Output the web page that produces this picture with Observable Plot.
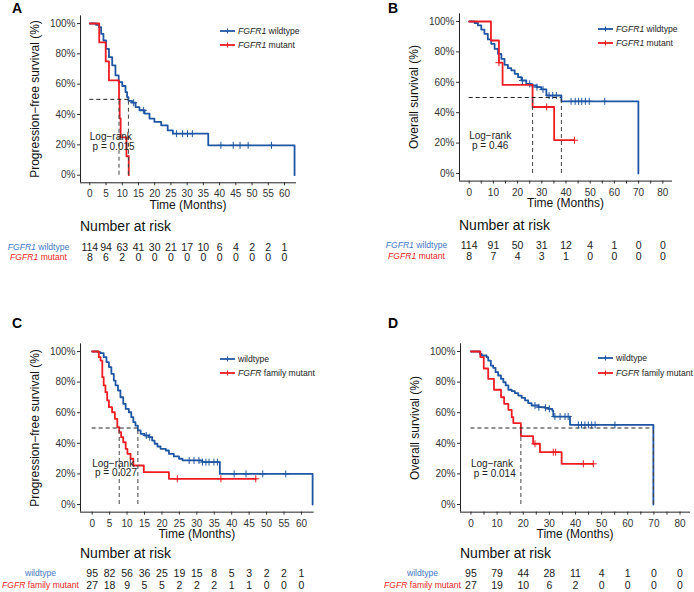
<!DOCTYPE html>
<html><head><meta charset="utf-8">
<script src="https://cdn.jsdelivr.net/npm/d3@7"></script>
<script src="https://cdn.jsdelivr.net/npm/@observablehq/plot@0.6"></script>
<style>
body{margin:0;background:#fff;}
#fig{position:relative;width:694px;height:592px;font-family:"Liberation Sans",Arial,Helvetica,sans-serif;color:#222;overflow:hidden;background:#fff}
.abs{position:absolute;white-space:nowrap;line-height:1}
.abs svg{display:block}
</style></head><body><div id="fig"></div>
<script>
// ---------------- DATA ----------------
const yTicks = [0, 0.2, 0.4, 0.6, 0.8, 1];
const timeTicksPFS = [0,5,10,15,20,25,30,35,40,45,50,55,60];
const timeTicksOS = [0,5,10,15,20,25,30,35,40,45,50,55,60,65,70,75,80];
const timeLabelsOS = [0,10,20,30,40,50,60,70,80];

// Panel A: PFS, FGFR1
const aWtTime = [0, 1.9, 2.8, 3.5, 4.2, 5.0, 5.9, 6.9, 7.9, 8.9, 10.0, 11.0, 11.5, 11.9, 13.0, 14.1, 15.3, 16.9, 18.4, 19.9, 22.0, 24.0, 25.6, 36.5, 63.1];
const aWtSurv = [1, 0.991, 0.976, 0.932, 0.888, 0.833, 0.778, 0.724, 0.658, 0.614, 0.588, 0.548, 0.515, 0.49, 0.478, 0.449, 0.428, 0.406, 0.373, 0.351, 0.329, 0.296, 0.274, 0.197, 0];
const aWtCensor = [13.5, 16.5, 26.7, 28.6, 30.1, 31.6, 40.4, 44.2, 46.3, 48.8, 56.0];
const aMutTime = [0, 2.9, 4.9, 5.9, 9.0, 9.2, 9.5, 11.3, 12.0];
const aMutSurv = [1, 0.875, 0.75, 0.625, 0.5, 0.375, 0.25, 0.125, 0];
const aMutCensor = [];
const aMedians = [9.0, 11.9];
const aPval = "0.015";
const aRiskTimes = [0,5,10,15,20,25,30,35,40,45,50,55,60];
const aRiskWt = [114,94,63,41,30,21,17,10,6,4,2,2,1];
const aRiskMut = [8,6,2,0,0,0,0,0,0,0,0,0,0];

// Panel B: OS, FGFR1
const bWtTime = [0, 2.2, 3.6, 5.0, 6.3, 7.7, 9.1, 10.5, 11.9, 13.3, 14.6, 16.0, 17.4, 18.8, 20.2, 21.6, 23.6, 25.7, 27.8, 29.8, 31.9, 38.1, 69.9];
const bWtSurv = [1, 0.99, 0.974, 0.947, 0.919, 0.882, 0.853, 0.82, 0.787, 0.754, 0.715, 0.693, 0.678, 0.656, 0.634, 0.612, 0.59, 0.579, 0.568, 0.553, 0.513, 0.475, 0];
const bWtCensor = [22, 25, 28, 30.5, 33, 34.5, 36, 42.1, 43.8, 45.2, 46.5, 48.0, 49.6, 56.0];
const bMutTime = [0, 9.0, 12.3, 13.8, 26.2, 35.1, 43.5];
const bMutSurv = [1, 0.875, 0.729, 0.583, 0.4375, 0.219, 0.219];
const bMutCensor = [12.3, 32, 43.5];
const bMedians = [26.2, 38.1];
const bPval = "0.46";
const bRiskTimes = [0,10,20,30,40,50,60,70,80];
const bRiskWt = [114,91,50,31,12,4,1,0,0];
const bRiskMut = [8,7,4,3,1,0,0,0,0];

// Panel C: PFS, FGFR family
const cWtTime = [0, 1.7, 2.4, 3.3, 4.1, 4.8, 5.5, 6.2, 6.7, 7.4, 8.1, 8.9, 9.6, 10.5, 11.2, 11.8, 12.4, 13.1, 13.9, 15.0, 16.3, 17.2, 17.9, 18.7, 19.6, 21.1, 22.0, 23.4, 24.9, 25.9, 31.6, 36.6, 63.2];
const cWtSurv = [1, 0.995, 0.989, 0.963, 0.93, 0.898, 0.854, 0.81, 0.778, 0.745, 0.701, 0.658, 0.625, 0.603, 0.571, 0.538, 0.516, 0.484, 0.462, 0.451, 0.44, 0.418, 0.397, 0.379, 0.364, 0.353, 0.331, 0.314, 0.299, 0.288, 0.277, 0.2, 0];
const cWtCensor = [15.5, 16.5, 27.8, 29.2, 30.6, 31.6, 32.6, 33.5, 34.9, 35.9, 40.7, 44.1, 48.9, 55.5];
const cMutTime = [0, 1.9, 2.4, 2.9, 3.3, 3.8, 4.3, 4.8, 5.7, 6.5, 7.2, 7.75, 8.3, 8.9, 9.6, 10.1, 11.0, 11.8, 14.8, 22.0, 46.9];
const cMutSurv = [1, 0.963, 0.941, 0.832, 0.778, 0.734, 0.68, 0.636, 0.603, 0.56, 0.505, 0.473, 0.44, 0.407, 0.364, 0.331, 0.299, 0.255, 0.211, 0.168, 0.168];
const cMutCensor = [24.4, 36.9, 46.9];
const cMedians = [7.75, 13.1];
const cPval = "0.027";
const cRiskTimes = [0,5,10,15,20,25,30,35,40,45,50,55,60];
const cRiskWt = [95,82,56,36,25,19,15,8,5,3,2,2,1];
const cRiskMut = [27,18,9,5,5,2,2,2,1,1,0,0,0];

// Panel D: OS, FGFR family
const dWtTime = [0, 3.4, 4.1, 6.0, 6.6, 7.6, 8.5, 9.4, 10.4, 11.5, 12.4, 13.3, 14.3, 15.6, 16.8, 18.1, 19.4, 20.7, 21.9, 23.2, 25.8, 28.3, 29.6, 31.1, 31.5, 37.9, 69.8];
const dWtSurv = [1, 0.985, 0.974, 0.963, 0.941, 0.908, 0.893, 0.865, 0.843, 0.821, 0.799, 0.778, 0.75, 0.741, 0.728, 0.712, 0.697, 0.68, 0.662, 0.647, 0.636, 0.632, 0.625, 0.614, 0.575, 0.52, 0];
const dWtCensor = [24.5, 26, 28.5, 30, 32.1, 34.1, 36.0, 37.2, 41.1, 42.3, 43.6, 44.9, 46.2, 47.5, 55.1];
const dMutTime = [0, 3.6, 4.9, 6.6, 8.8, 11.5, 12.7, 14.3, 15.6, 16.2, 19.1, 23.8, 26.4, 34.7, 46.8];
const dMutSurv = [1, 0.963, 0.889, 0.821, 0.75, 0.701, 0.658, 0.619, 0.571, 0.532, 0.447, 0.397, 0.342, 0.266, 0.266];
const dMutCensor = [24.5, 31.5, 32.4, 43, 46.8];
const dMedians = [19.1, 69.8];
const dPval = "0.014";
const dRiskTimes = [0,10,20,30,40,50,60,70,80];
const dRiskWt = [95,79,44,28,11,4,1,0,0];
const dRiskMut = [27,19,10,6,2,0,0,0,0];

const labelsFGFR1 = ["FGFR1 wildtype", "FGFR1 mutant"];
const labelsFamily = ["wildtype", "FGFR family mutant"];

// ---------------- STYLE ----------------
const FONT = '"Liberation Sans", Arial, Helvetica, sans-serif';
const BLUE = "#1f56a3";
const RED = "#ee1d23";
const BLUE_LABEL = "#3f78c4";
const RED_LABEL = "#e8251e";
const fig = document.getElementById("fig");
const NS = "http://www.w3.org/2000/svg";

function survAt(time, surv, t) {
  let s = surv[0];
  for (let i = 0; i < time.length; i++) if (time[i] <= t) s = surv[i];
  return s;
}
function place(el, left, top) {
  const d = document.createElement("div");
  d.className = "abs";
  d.style.left = left + "px"; d.style.top = top + "px";
  d.appendChild(el);
  fig.appendChild(d);
  return d;
}
function htmlText(html, x, y, opts = {}) {
  const d = document.createElement("div");
  d.className = "abs";
  d.innerHTML = html;
  d.style.left = x + "px"; d.style.top = y + "px";
  d.style.fontSize = (opts.size || 12) + "px";
  if (opts.bold) d.style.fontWeight = "bold";
  if (opts.color) d.style.color = opts.color;
  const tx = opts.anchor === "start" ? "0" : opts.anchor === "end" ? "-100%" : "-50%";
  d.style.transform = `translate(${tx},-50%)`;
  if (opts.rotate) { d.style.transformOrigin = "0 0"; d.style.transform = `rotate(${opts.rotate}deg) translate(-50%,-50%)`; }
  fig.appendChild(d);
  return d;
}
function italicize(svg) {
  svg.querySelectorAll("text").forEach(t => {
    if (t.querySelector("tspan")) return;
    const m = t.textContent.match(/^(FGFR1?)( .*)$/);
    if (!m) return;
    t.textContent = "";
    const a = document.createElementNS(NS, "tspan");
    a.setAttribute("font-style", "italic"); a.textContent = m[1];
    const b = document.createElementNS(NS, "tspan");
    b.textContent = m[2];
    t.append(a, b);
  });
}
function legendHTML(label) {
  const m = label.match(/^(FGFR1?)( .*)$/);
  return m ? `<i>${m[1]}</i>${m[2]}` : label;
}

function panel(cfg) {
  const fw = cfg.width - cfg.marginLeft - cfg.marginRight;
  const series = [
    {time: cfg.wtTime, surv: cfg.wtSurv, censor: cfg.wtCensor, color: BLUE},
    {time: cfg.mutTime, surv: cfg.mutSurv, censor: cfg.mutCensor, color: RED}
  ];
  const marks = [
    Plot.ruleX([cfg.xDomain[0]], {stroke: "#222", strokeWidth: 1}),
    Plot.ruleY([-0.05], {stroke: "#222", strokeWidth: 1})
  ];
  for (const s of series) {
    const rows = s.time.map((t, i) => ({t, s: s.surv[i]}));
    marks.push(Plot.line(rows, {x: "t", y: "s", curve: "step-after", stroke: s.color, strokeWidth: 1.8}));
    const cens = s.censor.map(t => ({t, s: survAt(s.time, s.surv, t)}));
    marks.push(Plot.dot(cens, {x: "t", y: "s", symbol: "plus", r: 2.4, stroke: s.color, strokeWidth: 1}));
  }
  marks.push(Plot.ruleY([0.5], {x1: 0, x2: d3.max(cfg.medians), stroke: "#222", strokeWidth: 1, strokeDasharray: "4,3"}));
  marks.push(Plot.ruleX(cfg.medians, {y1: 0, y2: 0.5, stroke: "#444", strokeWidth: 1, strokeDasharray: "4,3"}));
  marks.push(Plot.text([cfg.pval], {x: 0, y: cfg.pvalY, text: d => `Log\u2212rank\n p = ${d}`, textAnchor: "start", lineAnchor: "middle", fontSize: 10, lineHeight: 0.95, fill: "#222"}));

  const km = Plot.plot({
    width: cfg.width, height: cfg.height,
    marginLeft: cfg.marginLeft, marginRight: cfg.marginRight,
    marginTop: cfg.marginTop, marginBottom: cfg.marginBottom,
    style: {fontFamily: FONT, fontSize: "10px", color: "#333", background: "transparent", overflow: "visible"},
    x: {domain: cfg.xDomain, ticks: cfg.xTicks, tickFormat: d => cfg.xLabels.includes(d) ? String(d) : "", label: null, tickSize: 3, tickPadding: 4.5},
    y: {domain: [-0.05, 1.05], ticks: yTicks, tickFormat: d => Math.round(d * 100) + "%", label: null, tickSize: 3, tickPadding: 2},
    marks
  });
  place(km, cfg.left, cfg.top);

  const frameL = cfg.left + cfg.marginLeft;
  const frameT = cfg.top + cfg.marginTop;
  const frameB = cfg.top + cfg.height - cfg.marginBottom;
  htmlText("Time (Months)", frameL + fw / 2, frameB + 22.5, {size: 12, color: "#111"});
  htmlText(cfg.yTitle, frameL - 45.5, (frameT + frameB) / 2, {size: 12, color: "#111", rotate: -90});
  htmlText(cfg.letter, cfg.letterX, cfg.letterY, {size: 14, bold: true, color: "#000"});
  [BLUE, RED].forEach((c, i) => {
    const y = cfg.legendY[i];
    const svg = document.createElementNS(NS, "svg");
    svg.setAttribute("width", 15); svg.setAttribute("height", 8);
    svg.innerHTML = `<line x1="0" x2="15" y1="4" y2="4" stroke="${c}" stroke-width="1.8"/><line x1="7.5" x2="7.5" y1="1.5" y2="6.5" stroke="${c}" stroke-width="1"/>`;
    place(svg, cfg.legendX, y - 4);
    htmlText(legendHTML(cfg.labels[i]), cfg.legendX + 18, y, {size: 8.6, anchor: "start", color: "#222"});
  });
  htmlText("Number at risk", frameL, cfg.riskTitleY, {size: 14, anchor: "start", color: "#111"});
  const riskRows = [];
  cfg.riskTimes.forEach((t, i) => {
    riskRows.push({t, g: "wt", n: cfg.riskWt[i]});
    riskRows.push({t, g: "mut", n: cfg.riskMut[i]});
  });
  const risk = Plot.plot({
    width: cfg.width, height: cfg.riskHeight,
    marginLeft: cfg.marginLeft, marginRight: cfg.marginRight, marginTop: 0, marginBottom: 0,
    style: {fontFamily: FONT, fontSize: "10.5px", color: "#222", background: "transparent", overflow: "visible"},
    x: {domain: cfg.xDomain, axis: null},
    y: {type: "point", domain: ["wt", "mut"], range: cfg.riskRange, padding: 0, axis: null},
    marks: [
      Plot.text(riskRows, {x: "t", y: "g", text: "n", fontSize: 10.5, fill: "#1a1a1a", lineAnchor: "middle"}),
      Plot.text(["wt", "mut"], {y: d => d, text: d => d === "wt" ? cfg.labels[0] : cfg.labels[1], frameAnchor: "left", dx: cfg.riskLabelDx, textAnchor: "middle", lineAnchor: "middle", fontSize: 8.6, fill: d => d === "wt" ? BLUE_LABEL : RED_LABEL})
    ]
  });
  italicize(risk);
  place(risk, cfg.left, cfg.riskTop);
}

panel({
  letter: "A", letterX: 17, letterY: 8,
  left: 0, top: 0, width: 300, height: 215,
  marginLeft: 80, marginRight: 4, marginTop: 15.4, marginBottom: 32.7,
  xDomain: [-2.87, 63.7], xTicks: timeTicksPFS, xLabels: timeTicksPFS,
  yTitle: "Progression\u2212free survival (%)",
  wtTime: aWtTime, wtSurv: aWtSurv, wtCensor: aWtCensor,
  mutTime: aMutTime, mutSurv: aMutSurv, mutCensor: aMutCensor,
  medians: aMedians, pval: aPval, pvalY: 0.218,
  labels: labelsFGFR1, legendX: 220, legendY: [31, 45],
  riskTitleY: 226, riskTop: 235, riskHeight: 30, riskRange: [11.4, 22.2],
  riskTimes: aRiskTimes, riskWt: aRiskWt, riskMut: aRiskMut, riskLabelDx: -42
});
panel({
  letter: "B", letterX: 393, letterY: 8,
  left: 380, top: 0, width: 300, height: 215,
  marginLeft: 79, marginRight: 8, marginTop: 13.4, marginBottom: 34.4,
  xDomain: [-4, 84], xTicks: timeTicksOS, xLabels: timeLabelsOS,
  yTitle: "Overall survival (%)",
  wtTime: bWtTime, wtSurv: bWtSurv, wtCensor: bWtCensor,
  mutTime: bMutTime, mutSurv: bMutSurv, mutCensor: bMutCensor,
  medians: bMedians, pval: bPval, pvalY: 0.214,
  labels: labelsFGFR1, legendX: 598, legendY: [29.3, 43.3],
  riskTitleY: 225, riskTop: 235, riskHeight: 30, riskRange: [9.8, 21],
  riskTimes: bRiskTimes, riskWt: bRiskWt, riskMut: bRiskMut, riskLabelDx: -43
});
panel({
  letter: "C", letterX: 17, letterY: 323,
  left: 0, top: 330, width: 320, height: 215,
  marginLeft: 80, marginRight: 6.3, marginTop: 13.35, marginBottom: 33.35,
  xDomain: [-3.35, 63.65], xTicks: timeTicksPFS, xLabels: timeTicksPFS,
  yTitle: "Progression\u2212free survival (%)",
  wtTime: cWtTime, wtSurv: cWtSurv, wtCensor: cWtCensor,
  mutTime: cMutTime, mutSurv: cMutSurv, mutCensor: cMutCensor,
  medians: cMedians, pval: cPval, pvalY: 0.235,
  labels: labelsFamily, legendX: 220, legendY: [359, 373.3],
  riskTitleY: 553.3, riskTop: 560, riskHeight: 30, riskRange: [12.7, 25],
  riskTimes: cRiskTimes, riskWt: cRiskWt, riskMut: cRiskMut, riskLabelDx: -40
});
panel({
  letter: "D", letterX: 393, letterY: 323,
  left: 380, top: 330, width: 314, height: 215,
  marginLeft: 80, marginRight: 4, marginTop: 13.35, marginBottom: 33.35,
  xDomain: [-4, 84], xTicks: timeTicksOS, xLabels: timeLabelsOS,
  yTitle: "Overall survival (%)",
  wtTime: dWtTime, wtSurv: dWtSurv, wtCensor: dWtCensor,
  mutTime: dMutTime, mutSurv: dMutSurv, mutCensor: dMutCensor,
  medians: dMedians, pval: dPval, pvalY: 0.231,
  labels: labelsFamily, legendX: 598, legendY: [358.3, 372.7],
  riskTitleY: 553.3, riskTop: 560, riskHeight: 30, riskRange: [12.7, 25],
  riskTimes: dRiskTimes, riskWt: dRiskWt, riskMut: dRiskMut, riskLabelDx: -38
});
</script>
</body></html>
